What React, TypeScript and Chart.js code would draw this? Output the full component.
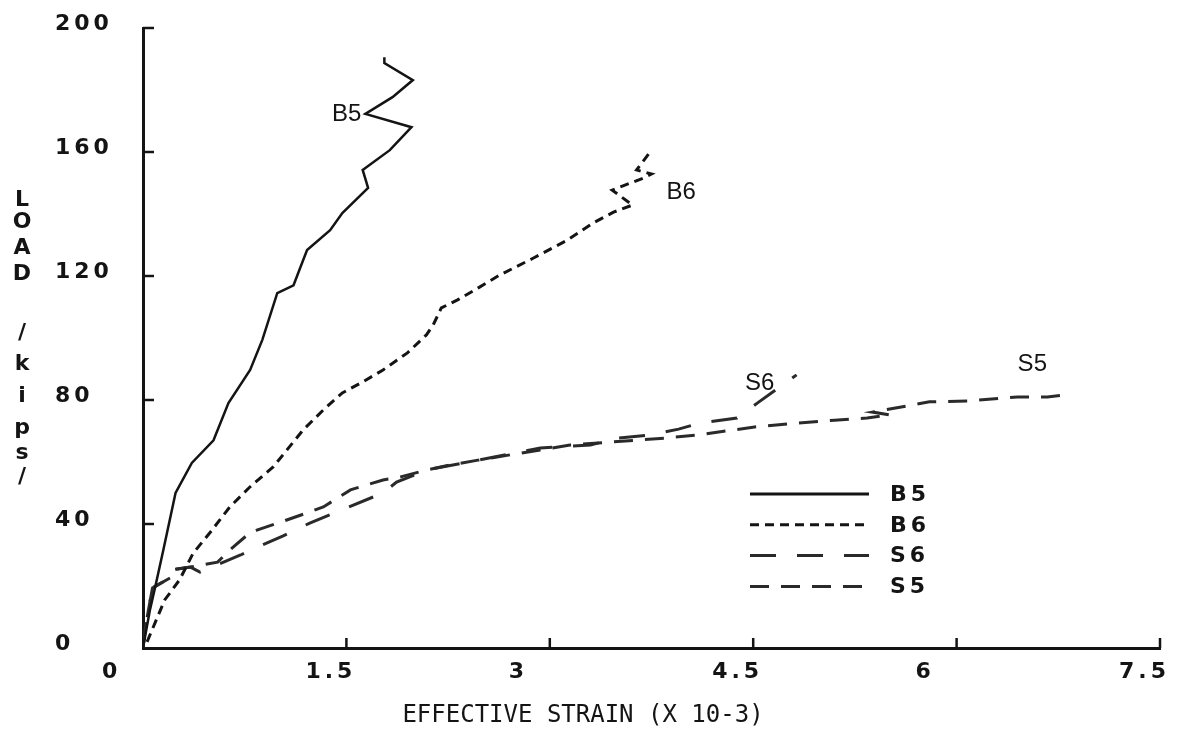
import React, { useEffect, useRef } from "react";
import { Chart, registerables } from "chart.js";

Chart.register(...registerables);

// ---- data ----
const seriesNames = ["B5", "B6", "S6", "S5"];

const b5Strain = [0, 0.05, 0.09, 0.15, 0.24, 0.36, 0.52, 0.63, 0.79, 0.88, 0.99, 1.11, 1.18, 1.21, 1.38, 1.47, 1.66, 1.62, 1.82, 1.98, 1.64, 1.84, 1.99, 1.78, 1.78];
const b5Load = [0, 12, 19.7, 31.6, 50, 59.7, 67, 79, 89.7, 99.4, 114.5, 117, 125, 128.4, 134.8, 140.3, 148.4, 154.2, 160.6, 168, 172.3, 177.7, 183.2, 188.7, 190.6];

const b6Strain = [0.03, 0.16, 0.27, 0.37, 0.49, 0.64, 0.79, 0.96, 1.11, 1.18, 1.33, 1.47, 1.62, 1.77, 1.95, 2.09, 2.14, 2.2, 2.32, 2.47, 2.63, 2.88, 3.13, 3.32, 3.47, 3.61, 3.46, 3.69, 3.75, 3.64, 3.75];
const b6Load = [2, 15.5, 22, 30.6, 37, 45.5, 52, 58.4, 66.5, 70.3, 76.8, 82.3, 85.8, 89.7, 95.2, 101, 104.2, 109.7, 112.3, 116.1, 120.3, 125.8, 131.6, 137.1, 140.6, 142.9, 147.7, 151.6, 152.9, 154.2, 160.6];

const s6Strain = [0, 0.02, 0.07, 0.2, 0.21, 0.35, 0.42, 0.72, 0.88, 1.03, 1.23, 1.5, 1.77, 1.87, 2.09, 2.47, 2.93, 3.3, 3.5, 3.74, 3.95, 4.11, 4.38, 4.53, 4.82];
const s6Load = [0, 7.4, 19.4, 22.6, 25.2, 26.1, 24.5, 30, 33.2, 36.1, 40.3, 45.2, 50, 53.5, 57.4, 60.6, 64.5, 65.5, 67.7, 68.7, 70.6, 72.6, 74.2, 79, 88.1];

const s5Strain = [0, 0.02, 0.07, 0.2, 0.21, 0.35, 0.55, 0.64, 0.77, 0.84, 1.06, 1.23, 1.33, 1.53, 1.77, 1.9, 2.09, 2.26, 2.47, 2.93, 3.15, 3.85, 4.09, 4.51, 4.77, 5.1, 5.34, 5.51, 5.38, 5.8, 6.08, 6.45, 6.67, 6.85];
const s5Load = [0, 7.4, 19.4, 22.6, 25.2, 26.1, 27.7, 31.6, 36.5, 38, 41.3, 43.9, 45.5, 51, 54.2, 55.2, 57.4, 59, 60.6, 63.9, 65.5, 67.7, 68.7, 71.3, 72.3, 73.5, 74.2, 75.2, 76.1, 79.4, 79.7, 81, 81, 81.9];

const xTickLabels = ["0", "1.5", "3", "4.5", "6", "7.5"];
const yTickLabels = ["0", "40", "80", "120", "160", "200"];
const xTitle = "EFFECTIVE STRAIN (X 10-3)";
const yTitleChars = ["L", "O", "A", "D", "/", "k", "i", "p", "s", "/"];

// curve annotations: [name, strain, load, align]
const curveTags: [string, number, number, CanvasTextAlign][] = [
  ["B5", 1.61, 172, "right"],
  ["B6", 3.86, 147, "left"],
  ["S6", 4.44, 85.5, "left"],
  ["S5", 6.45, 91.5, "left"],
];

const INK = "#141414";
const TICK_FONT = 'bold 22px "DejaVu Sans", sans-serif';

const pts = (xs: number[], ys: number[]) => xs.map((x, i) => ({ x, y: ys[i] }));

const decorPlugin = {
  id: "decor",
  beforeDraw(chart: any) {
    chart.ctx.letterSpacing = "4px";
  },
  afterDraw(chart: any) {
    const ctx: CanvasRenderingContext2D = chart.ctx;
    const xs = chart.scales.x;
    const ys = chart.scales.y;
    const area = chart.chartArea;
    ctx.save();
    ctx.letterSpacing = "0px";

    // inward tick marks
    ctx.strokeStyle = INK;
    ctx.lineWidth = 2.5;
    ctx.setLineDash([]);
    xs.ticks.forEach((t: any) => {
      if (t.value === 0) return;
      const px = xs.getPixelForValue(t.value);
      ctx.beginPath();
      ctx.moveTo(px, area.bottom);
      ctx.lineTo(px, area.bottom - 10);
      ctx.stroke();
    });
    ys.ticks.forEach((t: any) => {
      if (t.value === 0) return;
      const py = ys.getPixelForValue(t.value);
      ctx.beginPath();
      ctx.moveTo(area.left, py);
      ctx.lineTo(area.left + 11, py);
      ctx.stroke();
    });

    // x title
    ctx.fillStyle = INK;
    ctx.font = '24px "DejaVu Sans Mono", monospace';
    ctx.textAlign = "center";
    ctx.textBaseline = "middle";
    ctx.fillText(xTitle, 583, 716);

    // stacked y title
    ctx.font = TICK_FONT;
    const yPos = [200, 222, 248, 274, 333, 364, 396, 428, 453, 477];
    yTitleChars.forEach((c, i) => ctx.fillText(c, 22, yPos[i]));

    // curve annotations
    ctx.font = '24px "Liberation Sans", Arial, sans-serif';
    curveTags.forEach(([name, sx, ly, align]) => {
      ctx.textAlign = align;
      ctx.fillText(name, xs.getPixelForValue(sx), ys.getPixelForValue(ly));
    });

    // legend
    chart.data.datasets.forEach((ds: any, i: number) => {
      const y = 494 + i * 30.8;
      ctx.beginPath();
      ctx.setLineDash(ds.borderDash || []);
      ctx.lineWidth = 3;
      ctx.lineCap = "butt";
      ctx.strokeStyle = ds.borderColor;
      ctx.moveTo(750, y);
      ctx.lineTo(869, y);
      ctx.stroke();
      ctx.setLineDash([]);
      ctx.font = TICK_FONT;
      ctx.letterSpacing = "4px";
      ctx.textAlign = "left";
      ctx.textBaseline = "middle";
      ctx.fillText(ds.label, 890, y + 1);
      ctx.letterSpacing = "0px";
    });
    ctx.restore();
  },
};

export default function App() {
  const ref = useRef<HTMLCanvasElement>(null);
  useEffect(() => {
    const canvas = ref.current;
    if (!canvas) return;
    const tickFont = { family: '"DejaVu Sans", sans-serif', size: 22, weight: "bold" as const };
    const chart = new Chart(canvas, {
      type: "line",
      data: {
        datasets: [
          { label: seriesNames[0], data: pts(b5Strain, b5Load), borderColor: INK, borderWidth: 2.5, borderDash: [] },
          { label: seriesNames[1], data: pts(b6Strain, b6Load), borderColor: INK, borderWidth: 3, borderDash: [9, 6] },
          { label: seriesNames[2], data: pts(s6Strain, s6Load), borderColor: "#2a2a2a", borderWidth: 3, borderDash: [26, 21] },
          { label: seriesNames[3], data: pts(s5Strain, s5Load), borderColor: "#2a2a2a", borderWidth: 3, borderDash: [19, 12] },
        ] as any,
      },
      options: {
        animation: false,
        responsive: true,
        maintainAspectRatio: false,
        layout: { padding: { left: 55, right: 18, top: 28, bottom: 0 } },
        plugins: { legend: { display: false }, tooltip: { enabled: false } },
        elements: { point: { radius: 0 }, line: { tension: 0, fill: false } },
        scales: {
          x: {
            type: "linear",
            min: 0,
            max: 7.5,
            ticks: {
              stepSize: 1.5,
              align: "start",
              labelOffset: -41,
              padding: 11,
              color: INK,
              font: tickFont,
              callback: (_v: any, i: number) => xTickLabels[i],
            },
            grid: { display: true, drawOnChartArea: false, drawTicks: false },
            border: { display: true, color: INK, width: 3 },
            afterFit: (s: any) => {
              s.height = 94;
              s.paddingLeft = 0;
              s.paddingRight = 0;
            },
          } as any,
          y: {
            type: "linear",
            min: 0,
            max: 200,
            ticks: {
              stepSize: 40,
              crossAlign: "far",
              labelOffset: -4,
              color: INK,
              font: tickFont,
              callback: (_v: any, i: number) => yTickLabels[i],
            },
            grid: { display: true, drawOnChartArea: false, drawTicks: false },
            border: { display: true, color: INK, width: 3 },
            afterFit: (s: any) => {
              s.width = 88;
              s.paddingTop = 0;
              s.paddingBottom = 0;
            },
          } as any,
        },
      },
      plugins: [decorPlugin],
    });
    return () => chart.destroy();
  }, []);

  return (
    <div style={{ position: "fixed", left: 0, top: 0, width: 1178, height: 742, background: "#fff" }}>
      <canvas ref={ref} />
    </div>
  );
}
